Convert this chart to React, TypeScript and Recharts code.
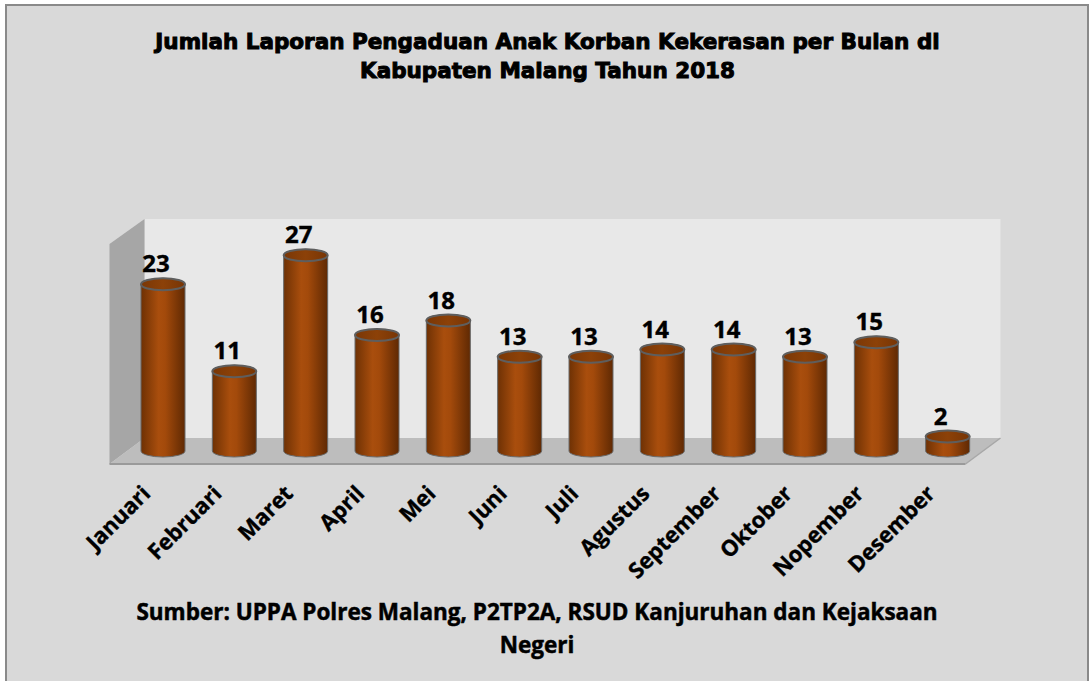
import React from 'react';
import { BarChart, Bar, XAxis, YAxis, LabelList, ReferenceArea } from 'recharts';

const months = ['Januari', 'Februari', 'Maret', 'April', 'Mei', 'Juni', 'Juli', 'Agustus', 'September', 'Oktober', 'Nopember', 'Desember'];
const counts = [23, 11, 27, 16, 18, 13, 13, 14, 14, 13, 15, 2];
const titleLines = ['Jumlah Laporan Pengaduan Anak Korban Kekerasan per Bulan di', 'Kabupaten Malang Tahun 2018'];
const sourceLines = ['Sumber: UPPA Polres Malang, P2TP2A, RSUD Kanjuruhan dan Kejaksaan', 'Negeri'];

const data = months.map((m, i) => ({ month: m, value: counts[i] }));

const DX = 17.5;
const DY = 13;

const Walls = (props: any) => {
  const { x, y, width, height } = props;
  const b = y + height;
  return (
    <g>
      <rect x={x + DX} y={y} width={width} height={height - DY} fill="#e8e8e8" />
      <polygon
        points={`${x - DX},${y + 2 * DY - 1} ${x + DX},${y} ${x + DX},${b - DY} ${x - DX},${b + DY}`}
        fill="#a6a6a6"
      />
      <polygon
        points={`${x + DX},${b - DY} ${x + width + DX},${b - DY} ${x + width - DX},${b + DY} ${x - DX},${b + DY}`}
        fill="#bdbdbd"
      />
      <line x1={x - DX} y1={b + DY} x2={x + width - DX} y2={b + DY} stroke="#9a9a9a" strokeWidth={2} />
      <line x1={x + width - DX} y1={b + DY} x2={x + width + DX} y2={b - DY} stroke="#a8a8a8" strokeWidth={1.5} />
    </g>
  );
};

const Cylinder = (props: any) => {
  const { x, y, width, height } = props;
  if (x == null || y == null) return null;
  const rx = width / 2;
  const ry = 6;
  const bottom = y + height;
  const d = `M ${x} ${y} L ${x} ${bottom} A ${rx} ${ry} 0 0 0 ${x + width} ${bottom} L ${x + width} ${y} A ${rx} ${ry} 0 0 0 ${x} ${y} Z`;
  return (
    <g>
      <path d={d} fill="url(#cylGrad)" stroke="#6a6a6a" strokeWidth={1} />
      <ellipse cx={x + rx} cy={y} rx={rx} ry={ry} fill="url(#topGrad)" stroke="#5e5e5e" strokeWidth={2} />
    </g>
  );
};

const ValueLabel = (props: any) => {
  const { x, y, width, value } = props;
  return (
    <text
      x={x + width / 2 - 7}
      y={y - 12}
      textAnchor="middle"
      fontFamily="'Open Sans', sans-serif"
      fontWeight={700}
      fontSize={24}
      fill="#000"
      stroke="#000"
      strokeWidth={0.4}
    >
      {value}
    </text>
  );
};

const MonthTick = (props: any) => {
  const { x, y, payload } = props;
  return (
    <text
      transform={`translate(${x - 11}, ${y + 44}) rotate(-45)`}
      textAnchor="end"
      fontFamily="'Open Sans', sans-serif"
      fontWeight={700}
      fontSize={22}
      fill="#000"
      stroke="#000"
      strokeWidth={0.4}
    >
      {payload.value}
    </text>
  );
};

export default function App() {
  return (
    <div style={{ position: 'fixed', left: 0, top: 0, width: 1091, height: 681, overflow: 'hidden', background: '#fff' }}>
      <div
        style={{
          position: 'absolute',
          left: 5,
          top: 4,
          width: 1080,
          height: 700,
          border: '2px solid #8a8a8a',
          background: '#d9d9d9',
        }}
      />
      <div
        style={{
          position: 'absolute',
          left: 0,
          top: 27,
          width: 1095,
          textAlign: 'center',
          fontFamily: "'DejaVu Sans', sans-serif",
          fontWeight: 700,
          fontSize: 21.5,
          lineHeight: '29px',
          color: '#000',
          WebkitTextStroke: '1px #000',
        }}
      >
        {titleLines.map((t) => (
          <div key={t}>{t}</div>
        ))}
      </div>
      <div style={{ position: 'absolute', left: 0, top: 0 }}>
        <BarChart width={1091} height={681} data={data} margin={{ top: 219, right: 108, bottom: 170, left: 127 }}>
          <defs>
            <linearGradient id="cylGrad" x1="0" y1="0" x2="1" y2="0">
              <stop offset="0%" stopColor="#6e3104" />
              <stop offset="40%" stopColor="#a94e0d" />
              <stop offset="55%" stopColor="#a34a0b" />
              <stop offset="100%" stopColor="#5f2903" />
            </linearGradient>
            <linearGradient id="topGrad" x1="0" y1="0" x2="1" y2="0">
              <stop offset="0%" stopColor="#7a3706" />
              <stop offset="50%" stopColor="#8c4108" />
              <stop offset="100%" stopColor="#773505" />
            </linearGradient>
          </defs>
          <ReferenceArea y1={0} y2={32} shape={Walls} ifOverflow="visible" fillOpacity={1} />
          <XAxis dataKey="month" axisLine={false} tickLine={false} tickSize={0} tickMargin={0} height={60} interval={0} tick={MonthTick} />
          <YAxis hide domain={[0, 32]} />
          <Bar dataKey="value" barSize={44} shape={Cylinder} isAnimationActive={false}>
            <LabelList dataKey="value" content={ValueLabel} />
          </Bar>
        </BarChart>
      </div>
      <div
        style={{
          position: 'absolute',
          left: 0,
          top: 595,
          width: 1074,
          textAlign: 'center',
          fontFamily: "'Open Sans', sans-serif",
          fontWeight: 700,
          fontSize: 22.5,
          lineHeight: '33px',
          color: '#000',
          WebkitTextStroke: '0.5px #000',
        }}
      >
        {sourceLines.map((t) => (
          <div key={t}>{t}</div>
        ))}
      </div>
    </div>
  );
}
